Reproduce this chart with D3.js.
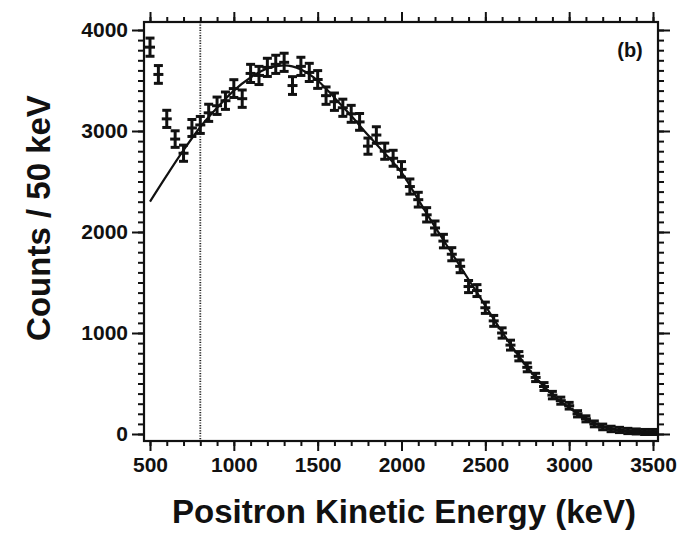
<!DOCTYPE html>
<html><head><meta charset="utf-8">
<script src="https://cdn.jsdelivr.net/npm/d3@7"></script>
<style>body{margin:0;background:#fff}svg{display:block}text{font-family:"Liberation Sans",Arial,sans-serif;fill:#111}</style>
</head><body>
<svg id="c" width="690" height="537"></svg>
<script>
const energies = [500,550,600,650,700,750,800,850,900,950,1000,1050,1100,1150,1200,1250,1300,1350,1400,1450,1500,1550,1600,1650,1700,1750,1800,1850,1900,1950,2000,2050,2100,2150,2200,2250,2300,2350,2400,2450,2500,2550,2600,2650,2700,2750,2800,2850,2900,2950,3000,3050,3100,3150,3200,3250,3300,3350,3400,3450,3500];
const counts = [3830,3560,3120,2920,2780,3030,3060,3180,3250,3300,3420,3320,3570,3550,3630,3660,3680,3450,3640,3580,3510,3350,3290,3230,3170,3090,2850,2960,2800,2730,2620,2450,2320,2170,2040,1910,1780,1660,1460,1420,1250,1120,1000,880,770,660,560,470,385,330,280,200,150,100,70,50,40,30,25,20,20];
const errors = [90,88,85,82,80,84,84,85,86,86,88,86,90,90,90,90,90,88,90,90,88,86,86,85,84,83,80,82,80,79,77,75,73,71,69,67,65,63,60,59,56,54,51,49,46,44,41,39,37,35,33,31,30,29,28,27,26,26,25,25,25];
const fitE = [500,600,700,800,900,1000,1100,1200,1300,1400,1500,1600,1700,1800,1900,2000,2100,2200,2300,2400,2500,2600,2700,2800,2900,3000,3100,3200,3300,3400,3500];
const fitC = [2300,2560,2810,3040,3230,3400,3530,3620,3650,3610,3500,3330,3150,2960,2780,2590,2320,2050,1790,1530,1270,1010,770,560,390,260,150,75,35,15,10];
const xTicks = [500,1000,1500,2000,2500,3000,3500];
const yTicks = [0,1000,2000,3000,4000];
const xLabel = "Positron Kinetic Energy (keV)";
const yLabel = "Counts / 50 keV";
const panelLabel = "(b)";
const cutE = 800;

const svg = d3.select("#c");
const x = d3.scaleLinear().domain([500,3500]).range([150,653]);
const y = d3.scaleLinear().domain([0,4000]).range([434,30]);
const frame = {l:144, r:658, t:22, b:441};

// dotted cut line
svg.append("line").attr("x1",x(cutE)).attr("x2",x(cutE)).attr("y1",frame.t).attr("y2",frame.b)
  .attr("stroke","#222").attr("stroke-width",1.8).attr("stroke-dasharray","1.2,1.4");

// fit curve
svg.append("path").datum(fitE.map((e,i)=>[e,fitC[i]]))
  .attr("d", d3.line().x(d=>x(d[0])).y(d=>y(d[1])).curve(d3.curveMonotoneX))
  .attr("fill","none").attr("stroke","#111").attr("stroke-width",2.2);

// data points with error bars
const g = svg.append("g").attr("stroke","#111").attr("stroke-width",3);
energies.forEach((e,i)=>{
  const cx = x(e), c = counts[i], er = errors[i];
  const y1 = y(c+er), y2 = y(c-er), cy = y(c);
  g.append("line").attr("x1",cx).attr("x2",cx).attr("y1",y1).attr("y2",y2);
  g.append("line").attr("x1",cx-4.5).attr("x2",cx+4.5).attr("y1",y1).attr("y2",y1);
  g.append("line").attr("x1",cx-4.5).attr("x2",cx+4.5).attr("y1",y2).attr("y2",y2);
  g.append("line").attr("x1",cx-5).attr("x2",cx+5).attr("y1",cy).attr("y2",cy);
});

// frame
svg.append("rect").attr("x",frame.l).attr("y",frame.t).attr("width",frame.r-frame.l).attr("height",frame.b-frame.t)
  .attr("fill","none").attr("stroke","#111").attr("stroke-width",2.2);

// axes
function styleAxis(sel){ sel.select(".domain").remove(); sel.selectAll(".tick line").attr("stroke","#111").attr("stroke-width",2); }
const xMinor = d3.range(500,3501,100), yMinor = d3.range(0,4001,100);
let a = svg.append("g").attr("transform",`translate(0,${frame.b})`).call(d3.axisBottom(x).tickValues(xMinor).tickSize(5).tickFormat(""));
styleAxis(a);
a = svg.append("g").attr("transform",`translate(0,${frame.b})`).call(d3.axisBottom(x).tickValues(xTicks).tickSize(10).tickPadding(5).tickFormat(d3.format("d")));
styleAxis(a);
a.selectAll("text").attr("font-size",21).attr("font-weight","bold").attr("fill","#111").attr("dy","0.78em");
a = svg.append("g").attr("transform",`translate(0,${frame.t})`).call(d3.axisTop(x).tickValues(xMinor).tickSize(5).tickFormat(""));
styleAxis(a);
a = svg.append("g").attr("transform",`translate(0,${frame.t})`).call(d3.axisTop(x).tickValues(xTicks).tickSize(10).tickFormat(""));
styleAxis(a);
a = svg.append("g").attr("transform",`translate(${frame.l},0)`).call(d3.axisLeft(y).tickValues(yMinor).tickSize(6).tickFormat(""));
styleAxis(a);
a = svg.append("g").attr("transform",`translate(${frame.l},0)`).call(d3.axisLeft(y).tickValues(yTicks).tickSize(12).tickPadding(4).tickFormat(d3.format("d")));
styleAxis(a);
a.selectAll("text").attr("font-size",21).attr("font-weight","bold").attr("fill","#111");
a = svg.append("g").attr("transform",`translate(${frame.r},0)`).call(d3.axisRight(y).tickValues(yMinor).tickSize(6).tickFormat(""));
styleAxis(a);
a = svg.append("g").attr("transform",`translate(${frame.r},0)`).call(d3.axisRight(y).tickValues(yTicks).tickSize(12).tickFormat(""));
styleAxis(a);

// labels
svg.append("text").attr("x",404).attr("y",523).attr("text-anchor","middle")
  .attr("font-size",33).attr("font-weight","bold").text(xLabel);
svg.append("text").attr("transform","translate(50,218) rotate(-90)").attr("text-anchor","middle")
  .attr("font-size",33).attr("font-weight","bold").text(yLabel);
svg.append("text").attr("x",630).attr("y",57).attr("text-anchor","middle")
  .attr("font-size",20).attr("font-weight","bold").text(panelLabel);
</script>
</body></html>
